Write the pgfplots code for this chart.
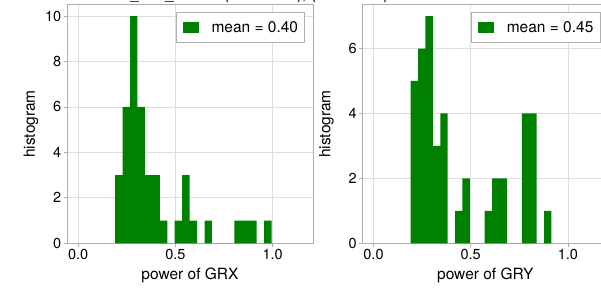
\documentclass[border=0pt]{standalone}
\usepackage{fontspec}
\setmainfont{TeX Gyre Heros}
\usepackage{pgfplots}
\usepackage{pgfplotstable}
\pgfplotsset{compat=1.18}
\definecolor{histgreen}{HTML}{008000}
\definecolor{spine}{HTML}{B0B0B0}
\definecolor{gridc}{HTML}{DDDDDD}

\pgfplotstableread{
x y
0.1900 3
0.2283 6
0.2666 10
0.3049 6
0.3432 3
0.3815 3
0.4198 1
0.4581 0
0.4964 1
0.5347 3
0.5730 1
0.6113 0
0.6496 1
0.6879 0
0.7262 0
0.7645 0
0.8028 1
0.8411 1
0.8794 1
0.9177 0
0.9560 1
0.9943 0
}\grx

\pgfplotstableread{
x y
0.1910 5
0.2291 6
0.2672 7
0.3053 3
0.3434 4
0.3815 0
0.4196 1
0.4577 2
0.4958 0
0.5339 0
0.5720 1
0.6101 2
0.6482 2
0.6863 0
0.7244 0
0.7625 4
0.8006 4
0.8387 0
0.8768 1
0.9149 0
}\gry

\pgfplotsset{
  hstyle/.style={
    scale only axis, width=246pt, height=238.6pt,
    xmin=-0.0575, xmax=1.2075, ymin=0,
    xtick={0,0.5,1}, ytick distance=2,
    /pgf/number format/assume math mode=true,
    axis line style={spine, line width=0.8pt},
    tick style={spine, line width=0.8pt},
    tick align=outside, tick pos=left, major tick length=3.5pt,
    grid=major, major grid style={gridc, line width=0.8pt},
    ticklabel style={font=\fontsize{14.5}{16}\selectfont},
    xticklabel style={inner sep=2.5pt, /pgf/number format/.cd, fixed, fixed zerofill, precision=1},
    yticklabel style={inner sep=2pt},
    label style={font=\fontsize{15.5}{18}\selectfont},
    ylabel style={at={(axis description cs:-0.1463,0.5)}, anchor=center},
    xlabel style={at={(axis description cs:0.5,-0.135)}, anchor=center},
    legend style={at={(1,1)}, anchor=north east, xshift=-8pt, yshift=-7.6pt,
      draw=spine, fill=white, line width=0.8pt,
      font=\fontsize{15.5}{18}\selectfont,
      inner xsep=6.5pt, inner ysep=8.5pt, column sep=13pt,
      nodes={inner sep=0pt}, cells={anchor=west}},
    legend image code/.code={\fill[histgreen] (0pt,-5.5pt) rectangle (16pt,5.5pt);},
  }
}

\begin{document}
\begin{tikzpicture}[x=1pt,y=1pt]
\begin{axis}[hstyle, at={(67pt,45.7pt)}, anchor=south west,
  ymax=10.5, xlabel={power of GRX}, ylabel={histogram}]
\addplot[ybar interval, fill=histgreen, draw=none] table[x=x,y=y] {\grx};
\addlegendentry{mean = 0.40}
\end{axis}
\begin{axis}[hstyle, at={(362.3pt,45.7pt)}, anchor=south west,
  ymax=7.35, xlabel={power of GRY}, ylabel={histogram}]
\addplot[ybar interval, fill=histgreen, draw=none] table[x=x,y=y] {\gry};
\addlegendentry{mean = 0.45}
\end{axis}
\node[anchor=base west, inner sep=0pt, font=\fontsize{15.5}{18}\selectfont] at (101pt,289.5pt) {total\_rate\_counts (GRX data), (GRY data)};
\pgfresetboundingbox
\useasboundingbox (0pt,0pt) rectangle (601pt,289pt);
\end{tikzpicture}
\end{document}
